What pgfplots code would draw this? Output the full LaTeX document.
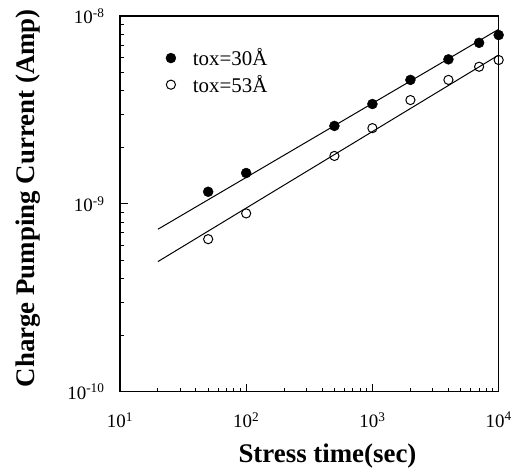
\documentclass[border=0pt]{standalone}
\usepackage{fontspec}
\setmainfont{Liberation Serif}
\usepackage{pgfplots}
\pgfplotsset{compat=1.18}
\usetikzlibrary{calc}

\begin{document}
\begin{tikzpicture}
  \begin{axis}[
    name=main,
    scale only axis,
    width=379bp, height=376bp,
    xmode=log, ymode=log,
    xmin=10, xmax=1e4,
    ymin=1e-10, ymax=1e-8,
    xtick={10,100,1000,10000},
    xticklabels={10\textsuperscript{1},10\textsuperscript{2},10\textsuperscript{3},10\textsuperscript{4}},
    ytick={1e-10,1e-9,1e-8},
    yticklabels={10\textsuperscript{-10},10\textsuperscript{-9},10\textsuperscript{-8}},
    xtick pos=bottom, ytick pos=left,
    tick align=inside,
    major tick length=8bp,
    minor tick length=4bp,
    every tick/.style={black, line width=1pt},
    axis line style={line width=1.4pt},
    ticklabel style={font=\fontsize{19}{22}\selectfont},
    xticklabel style={yshift=-17bp},
    yticklabel style={xshift=-12bp},
    xlabel={Stress time(sec)},
    ylabel={Charge Pumping Current (Amp)},
    label style={font=\bfseries\fontsize{27}{31}\selectfont},
    xlabel style={at={(axis description cs:0.548,-0.172)}, anchor=center},
    ylabel style={at={(axis description cs:-0.243,0.515)}, anchor=center},
    legend image code/.code={
      \path[draw=none, fill=none] (0bp,0bp) -- (23bp,0bp);
      \draw[#1] plot coordinates {(3bp,0bp)};
    },
    legend style={draw=none, fill=none, at={(rel axis cs:0.113,0.924)},
      anchor=north west, font=\fontsize{21}{24}\selectfont,
      row sep=4bp},
    legend cell align=left,
  ]
    \addplot[only marks, mark=*, mark size=5bp, black] coordinates {
      (50,1.16e-9) (100,1.46e-9) (500,2.6e-9) (1000,3.4e-9)
      (2000,4.57e-9) (4000,5.88e-9) (7000,7.2e-9) (10000,7.92e-9)
    };
    \addlegendentry{tox=30Å}
    \addplot[only marks, mark=o, mark size=4.6bp, black, mark options={fill=white, line width=1pt}] coordinates {
      (50,6.49e-10) (100,8.9e-10) (500,1.8e-9) (1000,2.53e-9)
      (2000,3.57e-9) (4000,4.57e-9) (7000,5.37e-9) (10000,5.83e-9)
    };
    \addlegendentry{tox=53Å}
    \addplot[black, line width=1pt, forget plot] coordinates {(20,7.33e-10) (10000,8.5e-9)};
    \addplot[black, line width=1pt, forget plot] coordinates {(20,4.93e-10) (10000,6.2e-9)};
  \end{axis}
  \path ($(main.south west)+(-120bp,-80bp)$) rectangle ($(main.north east)+(16bp,16bp)$);
\end{tikzpicture}
\end{document}
